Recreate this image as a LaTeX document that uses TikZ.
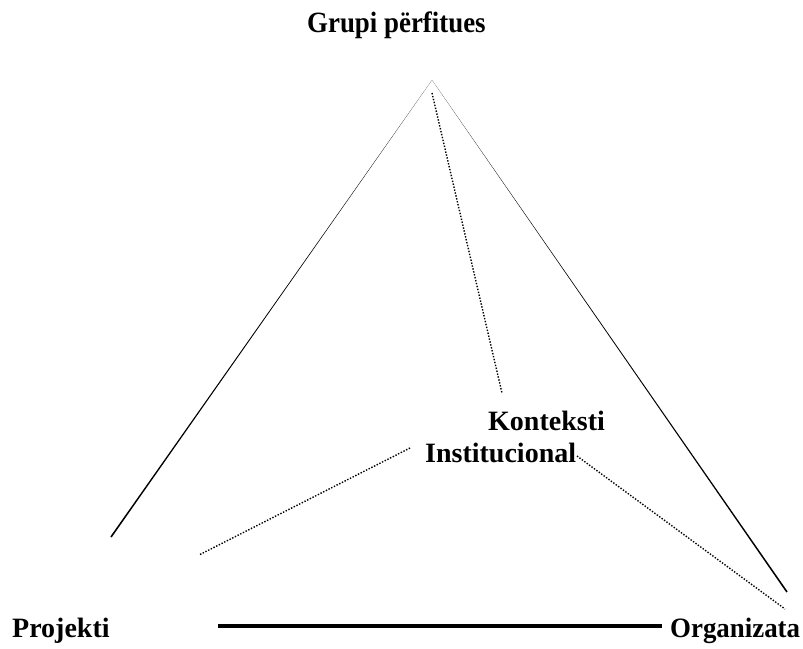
\documentclass[tikz,border=0pt]{standalone}
\usepackage{fontspec}
\setmainfont{Liberation Serif}
\usetikzlibrary{calc}
\tikzset{
  lbl/.style={anchor=base west, inner sep=0pt, font=\fontsize{28}{30}\selectfont\bfseries},
  dotline/.style={line width=1.4pt, dash pattern=on 1.4pt off 1.6pt},
  thickline/.style={line width=3.4pt},
}
\begin{document}
\begin{tikzpicture}[x=1pt,y=-1pt]
\useasboundingbox (0,0) rectangle (803,648);
% labels
\node[lbl] (grupi) at (307,32) {\scalebox{0.96}[1.05]{Grupi përfitues}};
\node[lbl] (proj) at (12,637) {Projekti};
\node[lbl] (org) at (670,637) {\scalebox{0.96}[1]{Organizata}};
\node[lbl] (kont) at (488,430) {Konteksti};
\node[lbl] (inst) at (425,462) {Institucional};
% endpoints
\coordinate (apex) at (432,80);
\coordinate (lend) at (111,537);
\coordinate (rend) at (787,592);
\coordinate (dtop) at (432,93);
\coordinate (dmid) at (502,393);
\coordinate (dls) at (410,448);
\coordinate (dle) at (199,555);
\coordinate (drs) at (577,456);
\coordinate (dre) at (785,609);
\coordinate (hl) at (218,626);
\coordinate (hr) at (662,626);
% tapered solid lines
\fill (apex) -- ($(lend)!0.8pt!90:(apex)$) -- ($(lend)!0.8pt!-90:(apex)$) -- cycle;
\fill (apex) -- ($(rend)!0.8pt!90:(apex)$) -- ($(rend)!0.8pt!-90:(apex)$) -- cycle;
% dotted lines
\draw[dotline] (dtop) -- (dmid);
\draw[dotline] (dls) -- (dle);
\draw[dotline] (drs) -- (dre);
% thick line
\draw[thickline] (hl) -- (hr);
\end{tikzpicture}
\end{document}
